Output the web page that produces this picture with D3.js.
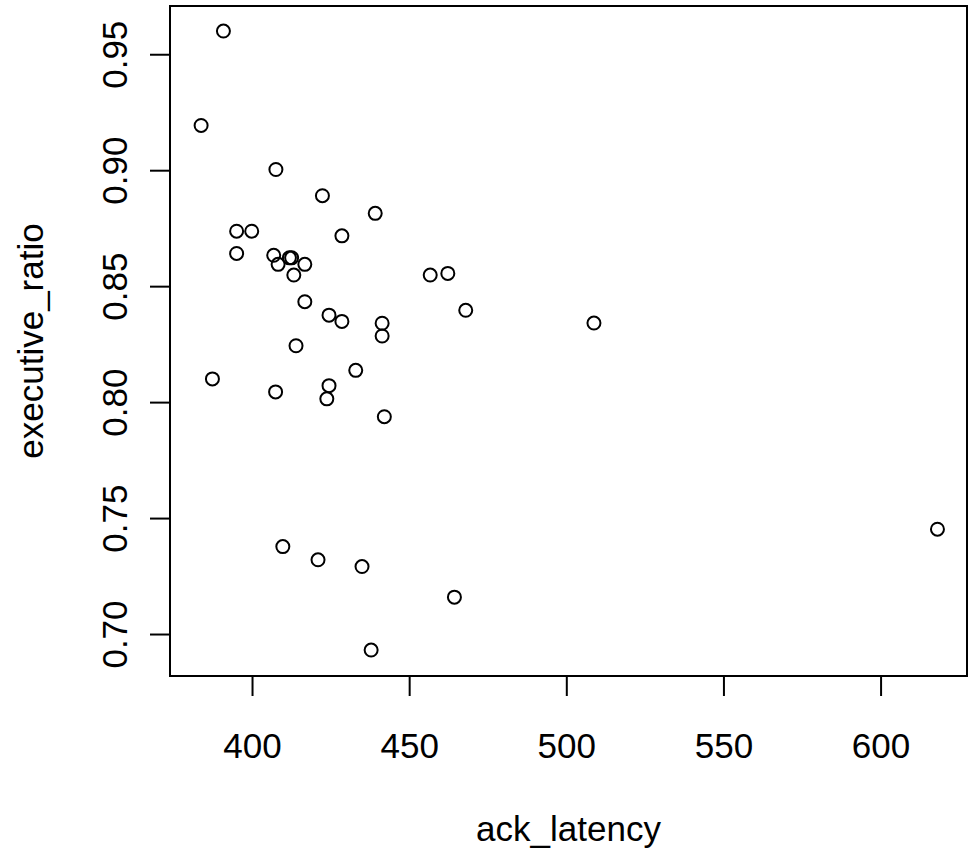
<!DOCTYPE html>
<html>
<head>
<meta charset="utf-8">
<script src="https://cdn.jsdelivr.net/npm/d3@7"></script>
<style>
  html, body { margin: 0; padding: 0; background: #fff; }
  svg text { font-family: "Liberation Sans", Arial, Helvetica, sans-serif; fill: #000; }
</style>
</head>
<body>
<svg id="chart" width="970" height="852"></svg>
<script>
// Observations: ack latency vs. executive ratio
const ackLatency = [
  390.9, 383.8, 407.6, 422.4, 439.2, 395.1, 399.9, 428.6, 395.1, 406.9,
  408.3, 411.9, 412.6, 416.8, 413.3, 416.8, 424.5, 428.6, 456.7, 462.3,
  468.0, 441.4, 441.4, 414.0, 387.4, 407.5, 424.5, 423.8, 433.0, 442.1,
  409.8, 421.0, 435.0, 464.4, 437.9, 508.8, 618.1
];
const executiveRatio = [
  0.9600, 0.9193, 0.9003, 0.8890, 0.8814, 0.8737, 0.8737, 0.8717, 0.8641, 0.8633,
  0.8594, 0.8622, 0.8622, 0.8594, 0.8548, 0.8433, 0.8375, 0.8348, 0.8548, 0.8555,
  0.8396, 0.8340, 0.8285, 0.8243, 0.8100, 0.8044, 0.8071, 0.8014, 0.8137, 0.7937,
  0.7377, 0.7320, 0.7291, 0.7159, 0.6931, 0.8341, 0.7452
];

// Axis limits and tick values
const xLimits = [373.9, 627.5];
const yLimits = [0.6819, 0.9708];
const xTicks = [400, 450, 500, 550, 600];
const yTicks = [0.70, 0.75, 0.80, 0.85, 0.90, 0.95];
const xTitle = "ack_latency";
const yTitle = "executive_ratio";

const box = { left: 170, right: 967, top: 6, bottom: 676 };
const fontSize = 35;
const ink = "#000";

const svg = d3.select("#chart");

const x = d3.scaleLinear().domain(xLimits).range([box.left, box.right]);
const y = d3.scaleLinear().domain(yLimits).range([box.bottom, box.top]);

// Plot frame
svg.append("rect")
  .attr("x", box.left).attr("y", box.top)
  .attr("width", box.right - box.left).attr("height", box.bottom - box.top)
  .attr("fill", "none").attr("stroke", ink).attr("stroke-width", 2);

// Bottom axis: ticks only, labels placed below
const xAxis = d3.axisBottom(x).tickValues(xTicks).tickSize(20).tickFormat(d3.format("d"));
const gx = svg.append("g").attr("transform", `translate(0,${box.bottom})`).call(xAxis);
gx.select(".domain")
  .attr("d", `M${x(xTicks[0])},0H${x(xTicks[xTicks.length - 1])}`)
  .attr("stroke", ink).attr("stroke-width", 2);
gx.selectAll(".tick line").attr("stroke", ink).attr("stroke-width", 2);
gx.selectAll(".tick text")
  .attr("y", 82).attr("dy", null)
  .attr("font-size", fontSize)
  .attr("fill", ink);

// Left axis: labels rotated to run parallel to the axis
const yAxis = d3.axisLeft(y).tickValues(yTicks).tickSize(20).tickFormat(d3.format(".2f"));
const gy = svg.append("g").attr("transform", `translate(${box.left},0)`).call(yAxis);
gy.select(".domain")
  .attr("d", `M0,${y(yTicks[0])}V${y(yTicks[yTicks.length - 1])}`)
  .attr("stroke", ink).attr("stroke-width", 2);
gy.selectAll(".tick line").attr("stroke", ink).attr("stroke-width", 2);
gy.selectAll(".tick text")
  .attr("x", null).attr("dy", null)
  .attr("transform", "translate(-43,0) rotate(-90)")
  .attr("text-anchor", "middle")
  .attr("font-size", fontSize)
  .attr("fill", ink);
svg.selectAll(".tick text").attr("font-family", null);
svg.selectAll("g").attr("font-family", null).attr("font-size", null);

// Axis titles
svg.append("text")
  .attr("x", (box.left + box.right) / 2)
  .attr("y", 841)
  .attr("text-anchor", "middle")
  .attr("font-size", fontSize)
  .text(xTitle);

svg.append("text")
  .attr("transform", `translate(43,${(box.top + box.bottom) / 2}) rotate(-90)`)
  .attr("text-anchor", "middle")
  .attr("font-size", fontSize)
  .text(yTitle);

// Open-circle points
svg.append("g")
  .selectAll("circle")
  .data(d3.range(ackLatency.length))
  .join("circle")
  .attr("cx", i => x(ackLatency[i]))
  .attr("cy", i => y(executiveRatio[i]))
  .attr("r", 6.5)
  .attr("fill", "none")
  .attr("stroke", ink)
  .attr("stroke-width", 2);
</script>
</body>
</html>
